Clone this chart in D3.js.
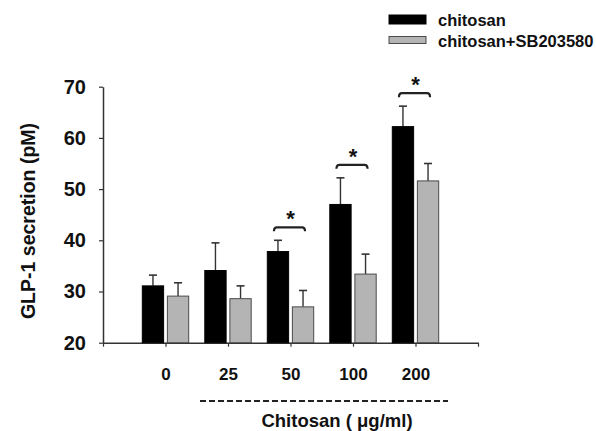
<!DOCTYPE html>
<html>
<head>
<meta charset="utf-8">
<script src="https://cdn.jsdelivr.net/npm/d3@7"></script>
<style>
  body { margin: 0; background: #fff; }
  svg { display: block; font-family: "Liberation Sans", Arial, sans-serif; }
</style>
</head>
<body>
<svg id="chart"></svg>
<script>
const doses = ["0", "25", "50", "100", "200"];
const series = ["chitosan", "chitosan+SB203580"];
const chitosanMean = [31.1, 34.1, 37.8, 47.0, 62.2];
const chitosanErr = [2.1, 5.4, 2.2, 5.2, 4.0];
const sbMean = [29.1, 28.6, 27.0, 33.4, 51.6];
const sbErr = [2.6, 2.5, 3.2, 3.9, 3.4];
const yTicks = [20, 30, 40, 50, 60, 70];
const significant = [false, false, true, true, true];

const width = 596;
const height = 431;
const colors = { "chitosan": "#000000", "chitosan+SB203580": "#b4b4b4" };
const strokes = { "chitosan": "#000000", "chitosan+SB203580": "#4a4a4a" };

const data = doses.map((d, i) => ({
  dose: d,
  i: i,
  values: [
    { key: series[0], mean: chitosanMean[i], err: chitosanErr[i] },
    { key: series[1], mean: sbMean[i], err: sbErr[i] }
  ]
}));

const svg = d3.select("#chart").attr("width", width).attr("height", height);
svg.append("rect").attr("width", width).attr("height", height).attr("fill", "#fff");

// group index -> x, one empty slot on each side
const x = d3.scaleLinear().domain([-1, doses.length]).range([103, 478]);
const xSub = d3.scaleBand().domain(series).range([-23.2, 23.2]).paddingInner(0.15);
const y = d3.scaleLinear().domain([20, 70]).range([342.7, 86.7]);

/* ***** axes ***** */
const xAxis = d3.axisBottom(x)
  .tickValues(d3.range(-1, doses.length + 1))
  .tickFormat(i => (i >= 0 && i < doses.length ? doses[i] : ""))
  .tickSize(4)
  .tickSizeOuter(0)
  .tickPadding(21.5);

const gx = svg.append("g")
  .attr("transform", `translate(0, ${y(20)})`)
  .call(xAxis);
gx.select(".domain").attr("stroke", "#333").attr("stroke-width", 1.5);
gx.selectAll(".tick line").attr("stroke", "#333").attr("stroke-width", 1.2);
gx.selectAll(".tick text")
  .attr("fill", "#111")
  .style("font-size", "17px")
  .style("font-weight", "bold");

const yAxis = d3.axisLeft(y)
  .tickValues(yTicks)
  .tickSize(4)
  .tickSizeOuter(0)
  .tickPadding(13);

const gy = svg.append("g")
  .attr("transform", `translate(${x(-1)}, 0)`)
  .call(yAxis);
gy.select(".domain").attr("stroke", "#333").attr("stroke-width", 1.5);
gy.selectAll(".tick line").attr("stroke", "#333").attr("stroke-width", 1.2);
gy.selectAll(".tick text")
  .attr("fill", "#111")
  .style("font-size", "20px")
  .style("font-weight", "bold");

svg.append("text")
  .attr("transform", "translate(34.5, 221) rotate(-90)")
  .attr("text-anchor", "middle")
  .attr("fill", "#111")
  .style("font-size", "19.5px")
  .style("font-weight", "bold")
  .text("GLP-1 secretion (pM)");

svg.append("line")
  .attr("x1", 200).attr("x2", 448)
  .attr("y1", 401).attr("y2", 401)
  .attr("stroke", "#222")
  .attr("stroke-width", 2)
  .attr("stroke-dasharray", "6,3");

svg.append("text")
  .attr("x", 337)
  .attr("y", 426.5)
  .attr("text-anchor", "middle")
  .attr("fill", "#111")
  .style("font-size", "18.5px")
  .style("font-weight", "bold")
  .text("Chitosan ( μg/ml)");

/* ***** bars ***** */
const groups = svg.selectAll(".group")
  .data(data)
  .join("g")
  .attr("class", "group")
  .attr("transform", d => `translate(${x(d.i)}, 0)`);

const bars = groups.selectAll(".bar")
  .data(d => d.values)
  .join("g")
  .attr("class", "bar");

// error bars first so the bar covers the stem bottom
bars.append("line")
  .attr("x1", d => xSub(d.key) + xSub.bandwidth() / 2)
  .attr("x2", d => xSub(d.key) + xSub.bandwidth() / 2)
  .attr("y1", d => y(d.mean))
  .attr("y2", d => y(d.mean + d.err))
  .attr("stroke", "#333")
  .attr("stroke-width", 1.4);

bars.append("line")
  .attr("x1", d => xSub(d.key) + xSub.bandwidth() / 2 - 4)
  .attr("x2", d => xSub(d.key) + xSub.bandwidth() / 2 + 4)
  .attr("y1", d => y(d.mean + d.err))
  .attr("y2", d => y(d.mean + d.err))
  .attr("stroke", "#333")
  .attr("stroke-width", 1.6);

bars.append("rect")
  .attr("x", d => xSub(d.key))
  .attr("width", xSub.bandwidth())
  .attr("y", d => y(d.mean))
  .attr("height", d => y(20) - y(d.mean))
  .attr("fill", d => colors[d.key])
  .attr("stroke", d => strokes[d.key])
  .attr("stroke-width", 1);

/* ***** significance brackets ***** */
const sig = groups.filter(d => significant[d.i]);
const bracketY = d => y(d3.max(d.values, v => v.mean + v.err)) - 13;

sig.append("path")
  .attr("d", d => {
    const x0 = xSub(series[0]) + xSub.bandwidth() / 2 - 4;
    const x1 = xSub(series[1]) + xSub.bandwidth() / 2 + 2;
    const by = bracketY(d);
    return `M${x0},${by + 4} Q${x0},${by} ${x0 + 3},${by} L${x1 - 3},${by} Q${x1},${by} ${x1},${by + 4}`;
  })
  .attr("fill", "none")
  .attr("stroke", "#222")
  .attr("stroke-width", 2.2);

sig.append("text")
  .attr("x", 0)
  .attr("y", d => bracketY(d) - 1)
  .attr("text-anchor", "middle")
  .attr("fill", "#111")
  .style("font-size", "22px")
  .style("font-weight", "bold")
  .text("*");

/* ***** legend ***** */
const legend = svg.selectAll(".legend")
  .data(series)
  .join("g")
  .attr("class", "legend")
  .attr("transform", (d, i) => `translate(389, ${15 + i * 21.5})`);

legend.append("rect")
  .attr("width", 37)
  .attr("height", d => (d === series[0] ? 9 : 7))
  .attr("fill", d => colors[d])
  .attr("stroke", d => strokes[d])
  .attr("stroke-width", 1);

legend.append("text")
  .attr("x", 49)
  .attr("y", 10.5)
  .attr("fill", "#111")
  .style("font-size", "16.5px")
  .style("font-weight", "bold")
  .text(d => d);
</script>
</body>
</html>
